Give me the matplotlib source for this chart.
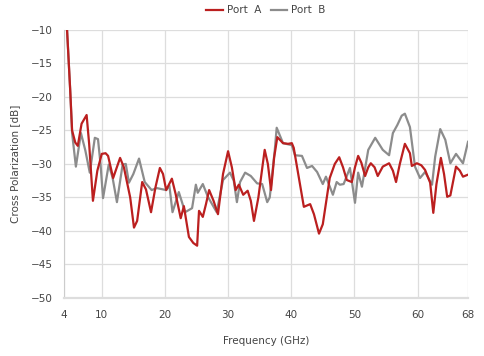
import matplotlib
matplotlib.use("Agg")
import matplotlib.pyplot as plt

plt.rcParams['font.family'] = ['DejaVu Sans']

# Port A (red) - frequency in GHz, cross polarization in dB
freq_a = [4.5, 5.0, 5.3, 5.8, 6.2, 6.8, 7.6, 8.0, 8.6, 9.3, 10.0, 10.6, 11.0,
          11.8, 12.9, 13.5, 14.5, 15.1, 15.6, 16.4, 17.0, 17.8, 18.5, 19.2,
          19.7, 20.2, 21.1, 21.7, 22.5, 23.0, 23.8, 24.5, 25.1, 25.4, 26.0,
          26.5, 27.0, 27.7, 28.4, 29.2, 30.0, 30.6, 31.2, 31.7, 32.4, 33.1,
          33.6, 34.1, 34.8, 35.5, 35.8, 36.3, 36.8, 37.3, 37.8, 38.7, 39.5,
          40.1, 40.4, 41.2, 42.0, 43.0, 43.6, 44.4, 45.0, 46.1, 46.9, 47.6,
          48.2, 48.8, 49.6, 50.1, 50.6, 51.1, 51.7, 52.2, 52.6, 53.2, 53.7,
          54.5, 55.5, 56.1, 56.6, 57.2, 58.0, 58.8, 59.1, 59.9, 60.6, 61.2,
          62.0, 62.5, 63.0, 63.7, 64.2, 64.7, 65.2, 66.1, 66.7, 67.2, 68.0]
cp_a = [-10.0, -19.0, -25.0, -26.8, -27.3, -24.0, -22.7, -27.0, -35.5, -31.0,
        -28.5, -28.4, -28.8, -32.1, -29.1, -30.5, -35.0, -39.5, -38.5, -32.7,
        -33.8, -37.2, -33.5, -30.6, -31.5, -33.9, -32.2, -34.5, -38.1, -36.3,
        -40.9, -41.8, -42.2, -37.0, -37.9, -36.0, -33.9, -35.5, -37.5, -31.5,
        -28.1, -30.5, -33.9, -33.1, -34.6, -34.0, -35.5, -38.5, -35.0, -30.0,
        -27.9, -30.0, -33.9, -29.0, -26.0, -26.9, -27.0, -26.9, -27.6, -32.0,
        -36.4, -36.0, -37.5, -40.4, -39.0, -32.1, -30.0, -29.0, -30.5, -32.4,
        -32.7, -30.5, -28.8, -29.8, -31.8, -30.5, -29.9, -30.5, -31.8, -30.4,
        -29.9, -31.0, -32.7, -30.0, -27.0, -28.4, -30.3, -29.9, -30.2, -30.9,
        -32.8, -37.3, -33.0, -29.1, -31.5, -34.9, -34.7, -30.4, -31.0, -31.9,
        -31.6]

# Port B (grey)
freq_b = [4.5, 5.0, 5.3, 5.9, 6.7, 7.4, 8.1, 8.9, 9.4, 9.8, 10.2, 11.1, 11.7,
          12.4, 13.3, 13.8, 14.3, 15.0, 15.9, 16.8, 17.9, 18.7, 20.2, 20.7,
          21.2, 22.2, 23.2, 24.3, 24.9, 25.2, 26.0, 26.8, 28.2, 29.2, 30.3,
          30.9, 31.4, 31.9, 32.7, 33.6, 34.6, 35.4, 36.2, 36.6, 37.4, 37.7,
          38.7, 40.1, 40.6, 41.7, 42.5, 43.3, 44.1, 45.0, 45.5, 46.6, 47.2,
          47.7, 48.3, 49.3, 50.1, 50.6, 51.2, 52.2, 53.3, 54.5, 55.5, 56.1,
          56.8, 57.5, 58.0, 58.8, 59.6, 60.4, 61.2, 62.3, 62.8, 63.6, 64.4,
          65.2, 66.1, 67.2, 68.0]
cp_b = [-10.0, -19.0, -25.4, -30.4, -25.4, -28.0, -31.3, -26.1, -26.3, -30.0,
        -35.1, -30.1, -32.0, -35.7, -30.1, -30.0, -32.8, -31.5, -29.2, -32.7,
        -33.9, -33.6, -33.9, -33.2, -37.2, -34.2, -37.2, -36.6, -33.1, -34.3,
        -33.0, -34.9, -37.2, -32.4, -31.3, -32.5, -35.7, -32.7, -31.3, -31.8,
        -32.9, -33.0, -35.7, -35.0, -27.9, -24.6, -26.9, -27.2, -28.7, -28.8,
        -30.6, -30.3, -31.2, -33.0, -31.9, -34.6, -32.7, -33.1, -33.0, -30.6,
        -35.8, -31.3, -33.4, -27.9, -26.1, -27.9, -28.7, -25.4, -24.2, -22.8,
        -22.5, -24.5, -30.4, -32.1, -31.2, -33.1, -28.9, -24.8, -26.4, -29.9,
        -28.5, -29.9, -26.7]

x_ticks = [4, 10, 20, 30, 40, 50, 60, 68]
y_ticks = [-10, -15, -20, -25, -30, -35, -40, -45, -50]

fig = plt.figure(figsize=(4.84, 3.56), dpi=100)
ax = fig.add_axes([0.132, 0.163, 0.835, 0.753])

ax.plot(freq_b, cp_b, color='#8c8c8c', lw=1.6, label='Port  B',
        solid_joinstyle='round', zorder=3)
ax.plot(freq_a, cp_a, color='#bb1f1f', lw=1.6, label='Port  A',
        solid_joinstyle='round', zorder=4)

ax.set_xlim(4, 68)
ax.set_ylim(-50, -10)
ax.set_xticks(x_ticks)
ax.set_yticks(y_ticks)
ax.grid(True, color='#dddddd', lw=0.9)
ax.set_axisbelow(True)
ax.tick_params(length=0, labelsize=7.5, colors='#444444')
ax.tick_params(axis='x', pad=9)
ax.tick_params(axis='y', pad=8)
for side in ['top', 'right']:
    ax.spines[side].set_visible(False)
ax.spines['left'].set_color('#cccccc')
ax.spines['bottom'].set_color('#dddddd')
ax.spines['bottom'].set_linewidth(1.6)

ax.set_xlabel('Frequency (GHz)', fontsize=7.5, color='#444444', labelpad=11)
ax.set_ylabel('Cross Polarization [dB]', fontsize=7.5, color='#444444',
              labelpad=8)

handles, labels = ax.get_legend_handles_labels()
ax.legend(handles[::-1], labels[::-1], loc='lower center',
          bbox_to_anchor=(0.5, 1.035), ncol=2, frameon=False, fontsize=7.5,
          handlelength=1.6, handletextpad=0.4, columnspacing=0.9,
          labelcolor='#444444', borderaxespad=0.1)

fig.savefig('out.png', dpi=100)
